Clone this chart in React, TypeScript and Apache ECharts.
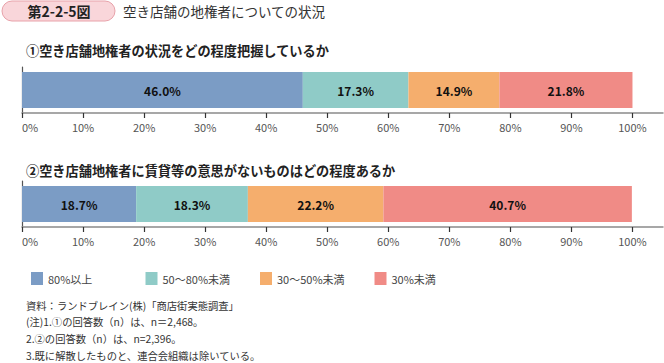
import React, { useEffect, useRef } from "react";
import * as echarts from "echarts";

const categories = ["80%以上", "50～80%未満", "30～50%未満", "30%未満"];
const q1Values = [46.0, 17.3, 14.9, 21.8];
const q2Values = [18.7, 18.3, 22.2, 40.7];
const tickValues = [0, 10, 20, 30, 40, 50, 60, 70, 80, 90, 100];
const colors = ["#7b9cc5", "#8fcbc7", "#f5ae6d", "#f08b86"];
const figureLabel = "第2-2-5図";
const titleText = "空き店舗の地権者についての状況";
const subtitle1 = "①空き店舗地権者の状況をどの程度把握しているか";
const subtitle2 = "②空き店舗地権者に賃貸等の意思がないものはどの程度あるか";
const notes = [
  "資料：ランドブレイン(株)「商店街実態調査」",
  "(注)1.①の回答数（n）は、n＝2,468。",
  "2.②の回答数（n）は、n=2,396。",
  "3.既に解散したものと、連合会組織は除いている。",
];

const FONT = "'Noto Sans CJK JP', 'Noto Sans', sans-serif";

export default function App() {
  const ref = useRef<HTMLDivElement>(null);
  useEffect(() => {
    if (!ref.current) return;
    const chart = echarts.init(ref.current, undefined, { renderer: "svg" });

    const xAxisBase = (gridIndex: number) => ({
      type: "value",
      gridIndex,
      min: 0,
      max: 105,
      splitLine: { show: false },
      axisLine: { show: true, lineStyle: { color: "#8a8a8a", width: 1.5 } },
      axisTick: {
        show: true,
        customValues: tickValues,
        length: 5,
        lineStyle: { color: "#333", width: 1.2 },
      },
      axisLabel: {
        customValues: tickValues,
        formatter: "{value}%",
        color: "#555",
        fontSize: 11,
        fontFamily: FONT,
        margin: 8,
        alignMinLabel: "left",
      },
    });
    const yAxisBase = (gridIndex: number) => ({
      type: "category",
      gridIndex,
      data: [""],
      axisLine: { show: true, lineStyle: { color: "#555", width: 1.2 } },
      axisTick: { show: false },
      axisLabel: { show: false },
    });

    const makeSeries = (values: number[], idx: number, stack: string) =>
      values.map((v, i) => ({
        name: categories[i],
        type: "bar",
        stack,
        xAxisIndex: idx,
        yAxisIndex: idx,
        barWidth: 36,
        data: [v],
        itemStyle: { color: colors[i] },
        label: {
          show: true,
          position: "inside",
          formatter: (p: any) => `${Number(p.value).toFixed(1)}%`,
          color: "#111",
          fontWeight: "bold",
          fontSize: 12,
          fontFamily: FONT,
        },
      }));

    chart.setOption({
      animation: false,
      textStyle: { fontFamily: FONT },
      grid: [
        { left: 22, right: 1, top: 67, height: 46 },
        { left: 22, right: 1, top: 181, height: 46 },
      ],
      xAxis: [xAxisBase(0), xAxisBase(1)],
      yAxis: [yAxisBase(0), yAxisBase(1)],
      legend: categories.map((c, i) => ({
        data: [c],
        left: 26 + 114.5 * i,
        top: 267,
        icon: "rect",
        itemWidth: 12,
        itemHeight: 13,
        textStyle: { fontSize: 11, color: "#444", fontFamily: FONT },
      })),
      series: [...makeSeries(q1Values, 0, "a"), ...makeSeries(q2Values, 1, "b")],
      graphic: [
        {
          type: "rect",
          shape: { x: 2, y: 1, width: 113, height: 20, r: 10 },
          style: { fill: "#f9d6da", stroke: "#e8a2aa", lineWidth: 1 },
        },
        {
          type: "text",
          x: 59,
          y: 11,
          style: {
            text: figureLabel,
            fill: "#222",
            fontSize: 14,
            fontWeight: "bold",
            fontFamily: FONT,
            align: "center",
            verticalAlign: "middle",
          },
        },
        {
          type: "text",
          x: 123,
          y: 11,
          style: {
            text: titleText,
            fill: "#333",
            fontSize: 13.5,
            fontFamily: FONT,
            verticalAlign: "middle",
          },
        },
        {
          type: "text",
          x: 26,
          y: 50,
          style: {
            text: subtitle1,
            fill: "#222",
            fontSize: 13.2,
            fontWeight: "bold",
            fontFamily: FONT,
            verticalAlign: "middle",
          },
        },
        {
          type: "text",
          x: 26,
          y: 170,
          style: {
            text: subtitle2,
            fill: "#222",
            fontSize: 13.2,
            fontWeight: "bold",
            fontFamily: FONT,
            verticalAlign: "middle",
          },
        },
        ...notes.map((t, i) => ({
          type: "text",
          x: 26,
          y: 305 + i * 16.8,
          style: {
            text: t,
            fill: "#333",
            fontSize: 10.3,
            fontFamily: FONT,
            verticalAlign: "middle",
          },
        })),
      ],
    });
    return () => chart.dispose();
  }, []);
  return (
    <div
      ref={ref}
      style={{ position: "fixed", left: 0, top: 0, width: 664, height: 363, background: "#fff" }}
    />
  );
}
